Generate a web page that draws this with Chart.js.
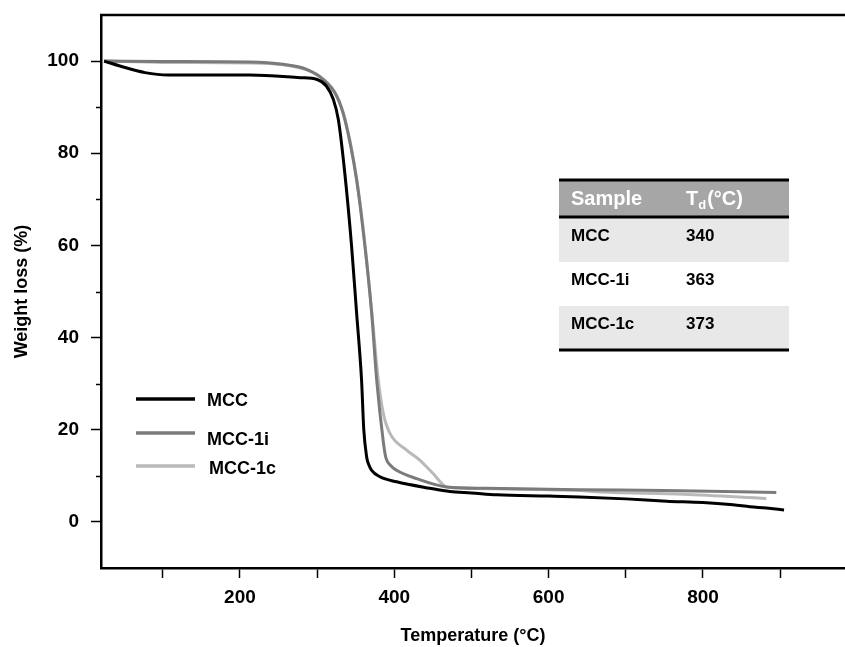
<!DOCTYPE html>
<html>
<head>
<meta charset="utf-8">
<script src="https://cdn.jsdelivr.net/npm/chart.js@4/dist/chart.umd.min.js"></script>
<style>
  html, body { margin: 0; padding: 0; background: #ffffff; }
  #wrap { width: 845px; height: 647px; position: relative; }
</style>
</head>
<body>
<div id="wrap"><canvas id="c" width="845" height="647"></canvas></div>
<script>
// ---------- data ----------
const seriesNames = ['MCC', 'MCC-1i', 'MCC-1c'];

const mccTemp   = [24, 51, 77, 107, 168, 213, 278, 300, 312, 321, 327.5, 336, 344.7, 351.2, 357.6, 360.5, 364.2, 366.5, 370.7, 381.4, 403, 446, 472, 500, 533, 600, 640, 700, 753, 800, 839, 861, 882, 905];
const mccWeight = [100, 98.6, 97.5, 97.0, 97.0, 97.0, 96.4, 96.0, 94.6, 91.7, 87.3, 75.5, 59.8, 45.3, 30.8, 20.0, 14.1, 12.6, 11.2, 9.8, 8.7, 7.3, 6.6, 6.3, 5.9, 5.6, 5.4, 5.0, 4.5, 4.2, 3.7, 3.3, 3.0, 2.6];

const mcc1iTemp   = [24, 100, 213, 256, 286.5, 308, 325.3, 336, 351.2, 362, 370.7, 377.2, 385.7, 389, 395, 403, 429, 467.8, 519.6, 640, 750, 895];
const mcc1iWeight = [100, 99.9, 99.8, 99.3, 98.2, 96.0, 92.4, 87.3, 74.2, 59.8, 45.3, 30.8, 17.5, 14.0, 12.3, 11.2, 9.4, 7.6, 7.3, 7.0, 6.8, 6.4];

const mcc1cTemp   = [24, 100, 213, 256, 286.5, 308, 325.3, 336, 351.2, 362, 370.7, 379.3, 385.7, 394.4, 416, 433, 450.3, 467.8, 489.3, 640, 666, 775, 882];
const mcc1cWeight = [100, 99.7, 99.6, 99.2, 98.1, 96.1, 92.6, 87.5, 74.5, 60.2, 45.8, 30.8, 23.6, 19.2, 15.6, 13.4, 10.5, 7.6, 7.3, 6.8, 6.5, 6.0, 5.1];

const tableHeader = ['Sample', 'T', 'd', '(°C)'];
const tableSamples = ['MCC', 'MCC-1i', 'MCC-1c'];
const tableTd = ['340', '363', '373'];

const xTitle = 'Temperature (°C)';
const yTitle = 'Weight loss (%)';

// ---------- helpers ----------
function pairs(xs, ys) { return xs.map((x, i) => ({ x: x, y: ys[i] })); }

const FONT = '"Liberation Sans", Arial, sans-serif';
const seriesColors = ['#000000', '#7b7b7b', '#b9b9b9'];

// minor y ticks, top frame line
const framePlugin = {
  id: 'frame',
  afterDraw(chart) {
    const ctx = chart.ctx;
    const a = chart.chartArea;
    const ys = chart.scales.y;
    ctx.save();
    ctx.strokeStyle = '#000';
    ctx.lineWidth = 2.5;
    ctx.beginPath();
    ctx.moveTo(a.left - 1, a.top);
    ctx.lineTo(a.right, a.top);
    ctx.stroke();
    ctx.lineWidth = 1.5;
    for (let v = 10; v <= 90; v += 20) {
      const py = Math.round(ys.getPixelForValue(v)) + 0.5;
      ctx.beginPath();
      ctx.moveTo(a.left - 5, py);
      ctx.lineTo(a.left, py);
      ctx.stroke();
    }
    ctx.restore();
  }
};

// legend drawn inside the plot
const legendPlugin = {
  id: 'innerLegend',
  afterDraw(chart) {
    const ctx = chart.ctx;
    const lineY = [399, 433, 466];
    const textY = [401, 440, 469];
    const textX = [207, 207, 209];
    ctx.save();
    chart.data.datasets.forEach((ds, i) => {
      ctx.strokeStyle = ds.borderColor;
      ctx.lineWidth = 3.5;
      ctx.beginPath();
      ctx.moveTo(136, lineY[i]);
      ctx.lineTo(195, lineY[i]);
      ctx.stroke();
      ctx.fillStyle = '#000';
      ctx.font = 'bold 18px ' + FONT;
      ctx.textBaseline = 'middle';
      ctx.textAlign = 'left';
      ctx.fillText(ds.label, textX[i], textY[i]);
    });
    ctx.restore();
  }
};

// inset table
const tablePlugin = {
  id: 'insetTable',
  afterDraw(chart) {
    const ctx = chart.ctx;
    const x0 = 559, x1 = 789;
    const col1 = 571, col2 = 686;
    ctx.save();
    ctx.fillStyle = '#a6a6a6';
    ctx.fillRect(x0, 180, x1 - x0, 37);
    const rowTop = [218, 262, 306];
    const rowFill = ['#e8e8e8', '#ffffff', '#e8e8e8'];
    rowTop.forEach((t, i) => {
      ctx.fillStyle = rowFill[i];
      ctx.fillRect(x0, t, x1 - x0, 44);
    });
    ctx.strokeStyle = '#000';
    ctx.lineWidth = 3;
    [180, 217, 350].forEach(y => {
      ctx.beginPath();
      ctx.moveTo(x0, y);
      ctx.lineTo(x1, y);
      ctx.stroke();
    });
    ctx.fillStyle = '#ffffff';
    ctx.textBaseline = 'middle';
    ctx.textAlign = 'left';
    ctx.font = 'bold 20px ' + FONT;
    ctx.fillText(tableHeader[0], col1, 199);
    ctx.fillText(tableHeader[1], col2, 199);
    const tW = ctx.measureText(tableHeader[1]).width;
    ctx.font = 'bold 13px ' + FONT;
    ctx.fillText(tableHeader[2], col2 + tW, 205);
    const dW = ctx.measureText(tableHeader[2]).width;
    ctx.font = 'bold 20px ' + FONT;
    ctx.fillText(tableHeader[3], col2 + tW + dW + 1, 199);
    ctx.fillStyle = '#000';
    ctx.font = 'bold 17px ' + FONT;
    const rowY = [236, 280, 324];
    tableSamples.forEach((s, i) => {
      ctx.fillText(s, col1, rowY[i]);
      ctx.fillText(tableTd[i], col2, rowY[i]);
    });
    ctx.restore();
  }
};

const ds = (label, xs, ys, i) => ({
  label: label,
  data: pairs(xs, ys),
  borderColor: seriesColors[i],
  backgroundColor: seriesColors[i],
  borderWidth: 3,
  pointRadius: 0,
  cubicInterpolationMode: 'monotone',
  fill: false
});

new Chart(document.getElementById('c'), {
  type: 'line',
  data: {
    datasets: [
      ds(seriesNames[0], mccTemp, mccWeight, 0),
      ds(seriesNames[1], mcc1iTemp, mcc1iWeight, 1),
      ds(seriesNames[2], mcc1cTemp, mcc1cWeight, 2)
    ]
  },
  options: {
    responsive: false,
    animation: false,
    devicePixelRatio: 1,
    layout: { padding: { left: 0, right: 0, top: 15, bottom: 0 } },
    plugins: { legend: { display: false }, tooltip: { enabled: false } },
    scales: {
      x: {
        type: 'linear',
        min: 20,
        max: 984,
        afterFit(scale) {
          scale.height = 79;
          scale.paddingLeft = 0;
          scale.paddingRight = 0;
        },
        border: { display: true, color: '#000', width: 2.5 },
        grid: {
          drawOnChartArea: false,
          drawTicks: true,
          tickLength: 10,
          tickWidth: 1.5,
          tickColor: '#000'
        },
        ticks: {
          stepSize: 100,
          includeBounds: false,
          autoSkip: false,
          maxRotation: 0,
          padding: 8,
          color: '#000',
          font: { family: FONT, size: 19, weight: 'bold' },
          callback: (v) => (v % 200 === 0 ? String(v) : '')
        },
        title: {
          display: true,
          text: xTitle,
          color: '#000',
          font: { family: FONT, size: 18, weight: 'bold' },
          padding: { top: 0, bottom: 0 }
        }
      },
      y: {
        type: 'linear',
        min: -10,
        max: 110,
        afterFit(scale) {
          scale.width = 101;
          scale.paddingTop = 0;
          scale.paddingBottom = 0;
        },
        border: { display: true, color: '#000', width: 2.5 },
        grid: {
          drawOnChartArea: false,
          drawTicks: true,
          tickLength: 10,
          tickWidth: 1.5,
          tickColor: (c) => {
            const v = c.tick ? c.tick.value : NaN;
            return (v % 20 === 0 && v >= 0 && v <= 100) ? '#000' : 'rgba(0,0,0,0)';
          }
        },
        ticks: {
          stepSize: 10,
          autoSkip: false,
          padding: 12,
          color: '#000',
          font: { family: FONT, size: 19, weight: 'bold' },
          callback: (v) => ((v % 20 === 0 && v >= 0 && v <= 100) ? String(v) : '')
        },
        title: {
          display: true,
          text: yTitle,
          color: '#000',
          font: { family: FONT, size: 18, weight: 'bold' },
          padding: { top: 11, bottom: 0 }
        }
      }
    }
  },
  plugins: [framePlugin, legendPlugin, tablePlugin]
});
</script>
</body>
</html>
